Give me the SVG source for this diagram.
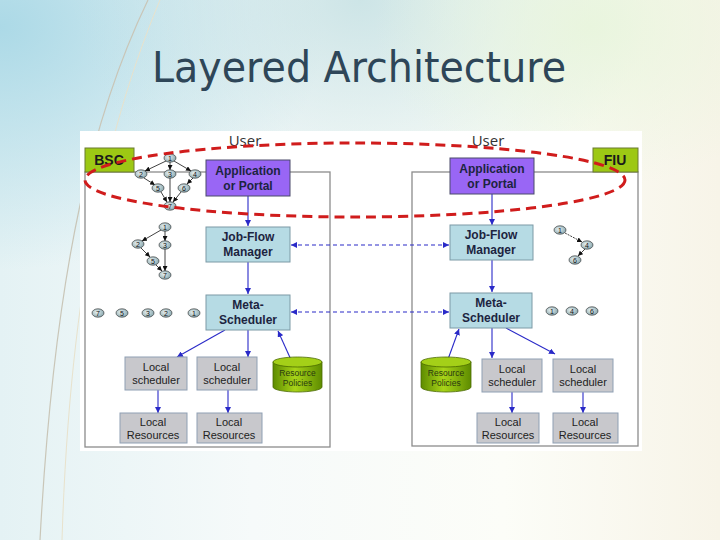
<svg xmlns="http://www.w3.org/2000/svg" width="720" height="540" viewBox="0 0 720 540">
<defs>
  <linearGradient id="bgH" x1="0" y1="0" x2="1" y2="0">
    <stop offset="0" stop-color="#e4f2f4"/>
    <stop offset="0.35" stop-color="#f6fafa"/>
    <stop offset="0.7" stop-color="#fcfdf8"/>
    <stop offset="1" stop-color="#f7f4e8"/>
  </linearGradient>
  <radialGradient id="tlGlow" cx="0" cy="0.05" r="0.45">
    <stop offset="0" stop-color="#a9d8e6" stop-opacity="0.95"/>
    <stop offset="1" stop-color="#a9d8e6" stop-opacity="0"/>
  </radialGradient>
  <radialGradient id="topGlow" cx="0.5" cy="0.0" r="0.4">
    <stop offset="0" stop-color="#c2dfe2" stop-opacity="0.8"/>
    <stop offset="1" stop-color="#c2dfe2" stop-opacity="0"/>
  </radialGradient>
  <radialGradient id="greenGlow" cx="0.82" cy="0.05" r="0.3">
    <stop offset="0" stop-color="#e8f5dc" stop-opacity="0.9"/>
    <stop offset="1" stop-color="#e8f5dc" stop-opacity="0"/>
  </radialGradient>
  <linearGradient id="cyl" x1="0" y1="0" x2="1" y2="0">
    <stop offset="0" stop-color="#5e8c00"/>
    <stop offset="0.45" stop-color="#a8d418"/>
    <stop offset="1" stop-color="#5e8c00"/>
  </linearGradient>
  <radialGradient id="nodeG" cx="0.4" cy="0.4" r="0.7">
    <stop offset="0" stop-color="#e8f0f0"/>
    <stop offset="1" stop-color="#7fa0a8"/>
  </radialGradient>
  <marker id="ab" viewBox="0 0 10 10" refX="10" refY="5" markerWidth="6" markerHeight="6" markerUnits="userSpaceOnUse" orient="auto-start-reverse">
    <path d="M0,0 L10,5 L0,10 z" fill="#2a2ac8"/>
  </marker>
  <marker id="ak" viewBox="0 0 10 10" refX="10" refY="5" markerWidth="5" markerHeight="5" markerUnits="userSpaceOnUse" orient="auto">
    <path d="M0,0 L10,5 L0,10 z" fill="#111"/>
  </marker>
  <style>
    .frame{fill:none;stroke:#8c8c8c;stroke-width:1.3}
    .tag{stroke:#6a7a30;stroke-width:1;fill:#9dc814}
    .tagt{font-family:"Liberation Sans",Arial,sans-serif;font-weight:bold;font-size:14px;fill:#1a1a1a;text-anchor:middle}
    .app{fill:#9966f5;stroke:#4a4a6a;stroke-width:1}
    .jfm{fill:#b6dbe4;stroke:#7c9aa6;stroke-width:1}
    .loc{fill:#c8c8cc;stroke:#8fa0b4;stroke-width:1}
    .bt{font-family:"Liberation Sans",Arial,sans-serif;font-weight:bold;font-size:12px;fill:#1c2440;text-anchor:middle}
    .lt{font-family:"Liberation Sans",Arial,sans-serif;font-size:11px;fill:#222;text-anchor:middle}
    .pt{font-family:"Liberation Sans",Arial,sans-serif;font-size:8.5px;fill:#2a3a10;text-anchor:middle}
    .user{font-family:"Open Sans","DejaVu Sans",sans-serif;font-size:15px;fill:#333;text-anchor:middle}
    .ar{stroke:#2a2ac8;stroke-width:1.1;fill:none;marker-end:url(#ab)}
    .da{stroke:#2a2ac8;stroke-width:1.1;fill:none;stroke-dasharray:4 3;marker-start:url(#ab);marker-end:url(#ab)}
    .ge{stroke:#111;stroke-width:0.8;fill:none;marker-end:url(#ak)}
    .gn{fill:url(#nodeG);stroke:#222;stroke-width:0.6}
    .gt{font-family:"Liberation Sans",Arial,sans-serif;font-size:7px;fill:#111;text-anchor:middle}
  </style>
</defs>

<!-- background -->
<rect x="0" y="0" width="720" height="540" fill="url(#bgH)"/>
<rect x="0" y="0" width="720" height="540" fill="url(#tlGlow)"/>
<rect x="0" y="0" width="720" height="540" fill="url(#topGlow)"/>
<rect x="0" y="0" width="720" height="540" fill="url(#greenGlow)"/>
<path d="M148,0 C95,110 55,260 40,540" fill="none" stroke="#c9c6b8" stroke-width="1.2"/>
<path d="M160,0 C110,120 70,280 62,540" fill="none" stroke="#e8e2cc" stroke-width="1"/>

<!-- title -->
<text x="359" y="82" font-family="'DejaVu Sans',sans-serif" font-size="43" fill="#2e4658" text-anchor="middle" textLength="414" lengthAdjust="spacingAndGlyphs">Layered Architecture</text>

<!-- diagram panel -->
<rect x="80" y="131" width="562" height="320" fill="#ffffff"/>

<!-- frames -->
<rect class="frame" x="85" y="172" width="245" height="275"/>
<rect class="frame" x="412" y="172" width="226" height="274"/>

<text class="user" x="245" y="146">User</text>
<text class="user" x="488" y="146">User</text>

<g id="connectors">
  <line class="ar" x1="248" y1="196" x2="248" y2="226"/>
  <line class="ar" x1="248" y1="262" x2="248" y2="294"/>
  <line class="ar" x1="225" y1="330" x2="177" y2="357"/>
  <line class="ar" x1="248" y1="330" x2="248" y2="357"/>
  <line class="ar" x1="292" y1="362" x2="278" y2="331"/>
  <line class="ar" x1="158" y1="390" x2="158" y2="413"/>
  <line class="ar" x1="228" y1="390" x2="228" y2="413"/>
  <line class="ar" x1="492" y1="194" x2="492" y2="225"/>
  <line class="ar" x1="492" y1="260" x2="492" y2="292"/>
  <line class="ar" x1="492" y1="328" x2="492" y2="358"/>
  <line class="ar" x1="506" y1="328" x2="555" y2="354"/>
  <line class="ar" x1="447" y1="362" x2="459" y2="329"/>
  <line class="ar" x1="512" y1="392" x2="512" y2="413"/>
  <line class="ar" x1="583" y1="392" x2="583" y2="413"/>
  <line class="da" x1="291" y1="245" x2="449" y2="245"/>
  <line class="da" x1="291" y1="312" x2="449" y2="312"/>
</g>

<!-- left side -->
<g id="bsc"><rect class="tag" x="85" y="148" width="49" height="24"/><text class="tagt" x="109" y="165">BSC</text></g>
<g id="app-left"><rect class="app" x="206" y="160" width="84" height="36"/><text class="bt" x="248" y="175">Application</text><text class="bt" x="248" y="190">or Portal</text></g>
<g id="jfm-left"><rect class="jfm" x="206" y="227" width="84" height="35"/><text class="bt" x="248" y="241">Job-Flow</text><text class="bt" x="248" y="256">Manager</text></g>
<g id="meta-left"><rect class="jfm" x="206" y="295" width="84" height="35"/><text class="bt" x="248" y="309">Meta-</text><text class="bt" x="248" y="324">Scheduler</text></g>
<g id="ls1"><rect class="loc" x="125" y="357" width="62" height="33"/><text class="lt" x="156" y="371">Local</text><text class="lt" x="156" y="384">scheduler</text></g>
<g id="ls2"><rect class="loc" x="197" y="357" width="60" height="33"/><text class="lt" x="227" y="371">Local</text><text class="lt" x="227" y="384">scheduler</text></g>
<g id="rp-left">
  <path d="M273,362 L273,387 A24.5,5 0 0 0 322,387 L322,362 Z" fill="url(#cyl)" stroke="#4a6a00" stroke-width="0.8"/>
  <ellipse cx="297.5" cy="362" rx="24.5" ry="5" fill="#a4d018" stroke="#4a6a00" stroke-width="0.8"/>
  <text class="pt" x="297.5" y="376">Resource</text><text class="pt" x="297.5" y="386">Policies</text>
</g>
<g id="lr1"><rect class="loc" x="120" y="413" width="67" height="30"/><text class="lt" x="153" y="426">Local</text><text class="lt" x="153" y="439">Resources</text></g>
<g id="lr2"><rect class="loc" x="197" y="413" width="65" height="30"/><text class="lt" x="229" y="426">Local</text><text class="lt" x="229" y="439">Resources</text></g>

<!-- right side -->
<g id="fiu"><rect class="tag" x="593" y="148" width="45" height="24"/><text class="tagt" x="615" y="165">FIU</text></g>
<g id="app-right"><rect class="app" x="450" y="158" width="84" height="36"/><text class="bt" x="492" y="173">Application</text><text class="bt" x="492" y="188">or Portal</text></g>
<g id="jfm-right"><rect class="jfm" x="450" y="225" width="83" height="35"/><text class="bt" x="491" y="239">Job-Flow</text><text class="bt" x="491" y="254">Manager</text></g>
<g id="meta-right"><rect class="jfm" x="450" y="293" width="82" height="35"/><text class="bt" x="491" y="307">Meta-</text><text class="bt" x="491" y="322">Scheduler</text></g>
<g id="rp-right">
  <path d="M421,362 L421,387 A25,5 0 0 0 471,387 L471,362 Z" fill="url(#cyl)" stroke="#4a6a00" stroke-width="0.8"/>
  <ellipse cx="446" cy="362" rx="25" ry="5" fill="#a4d018" stroke="#4a6a00" stroke-width="0.8"/>
  <text class="pt" x="446" y="376">Resource</text><text class="pt" x="446" y="386">Policies</text>
</g>
<g id="ls3"><rect class="loc" x="482" y="359" width="60" height="33"/><text class="lt" x="512" y="373">Local</text><text class="lt" x="512" y="386">scheduler</text></g>
<g id="ls4"><rect class="loc" x="553" y="359" width="60" height="33"/><text class="lt" x="583" y="373">Local</text><text class="lt" x="583" y="386">scheduler</text></g>
<g id="lr3"><rect class="loc" x="477" y="413" width="62" height="30"/><text class="lt" x="508" y="426">Local</text><text class="lt" x="508" y="439">Resources</text></g>
<g id="lr4"><rect class="loc" x="553" y="413" width="65" height="30"/><text class="lt" x="585" y="426">Local</text><text class="lt" x="585" y="439">Resources</text></g>

<!-- workflow graph top-left -->
<g id="graph1">
  <line class="ge" x1="166" y1="161" x2="145" y2="171"/>
  <line class="ge" x1="170" y1="162" x2="170" y2="170"/>
  <line class="ge" x1="174" y1="161" x2="191" y2="171"/>
  <line class="ge" x1="144" y1="178" x2="155" y2="185"/>
  <line class="ge" x1="193" y1="178" x2="187" y2="184"/>
  <line class="ge" x1="161" y1="192" x2="167" y2="202"/>
  <line class="ge" x1="170" y1="178" x2="170" y2="202"/>
  <line class="ge" x1="181" y1="192" x2="173" y2="202"/>
  <ellipse class="gn" cx="170" cy="158" rx="6" ry="4.2"/><text class="gt" x="170" y="160.5">1</text>
  <ellipse class="gn" cx="141" cy="174" rx="6" ry="4.2"/><text class="gt" x="141" y="176.5">2</text>
  <ellipse class="gn" cx="170" cy="174" rx="6" ry="4.2"/><text class="gt" x="170" y="176.5">3</text>
  <ellipse class="gn" cx="195" cy="174" rx="6" ry="4.2"/><text class="gt" x="195" y="176.5">4</text>
  <ellipse class="gn" cx="158" cy="188" rx="6" ry="4.2"/><text class="gt" x="158" y="190.5">5</text>
  <ellipse class="gn" cx="184" cy="188" rx="6" ry="4.2"/><text class="gt" x="184" y="190.5">6</text>
  <ellipse class="gn" cx="170" cy="206" rx="6" ry="4.2"/><text class="gt" x="170" y="208.5">7</text>
</g>
<g id="graph2">
  <line class="ge" x1="161" y1="230" x2="142" y2="241"/>
  <line class="ge" x1="165" y1="231" x2="165" y2="241"/>
  <line class="ge" x1="141" y1="248" x2="150" y2="257"/>
  <line class="ge" x1="156" y1="265" x2="162" y2="271"/>
  <line class="ge" x1="165" y1="249" x2="165" y2="271"/>
  <ellipse class="gn" cx="165" cy="227" rx="6" ry="4.2"/><text class="gt" x="165" y="229.5">1</text>
  <ellipse class="gn" cx="138" cy="244" rx="6" ry="4.2"/><text class="gt" x="138" y="246.5">2</text>
  <ellipse class="gn" cx="165" cy="245" rx="6" ry="4.2"/><text class="gt" x="165" y="247.5">3</text>
  <ellipse class="gn" cx="153" cy="261" rx="6" ry="4.2"/><text class="gt" x="153" y="263.5">5</text>
  <ellipse class="gn" cx="165" cy="275" rx="6" ry="4.2"/><text class="gt" x="165" y="277.5">7</text>
</g>
<g id="row-left">
  <ellipse class="gn" cx="98" cy="313" rx="6" ry="4.2"/><text class="gt" x="98" y="315.5">7</text>
  <ellipse class="gn" cx="122" cy="313" rx="6" ry="4.2"/><text class="gt" x="122" y="315.5">5</text>
  <ellipse class="gn" cx="148" cy="313" rx="6" ry="4.2"/><text class="gt" x="148" y="315.5">3</text>
  <ellipse class="gn" cx="166" cy="313" rx="6" ry="4.2"/><text class="gt" x="166" y="315.5">2</text>
  <ellipse class="gn" cx="194" cy="313" rx="6" ry="4.2"/><text class="gt" x="194" y="315.5">1</text>
</g>
<g id="graph3">
  <line class="ge" x1="565" y1="233" x2="582" y2="242" stroke-dasharray="2 1"/>
  <line class="ge" x1="585" y1="249" x2="578" y2="256"/>
  <ellipse class="gn" cx="560" cy="230" rx="6" ry="4.2"/><text class="gt" x="560" y="232.5">1</text>
  <ellipse class="gn" cx="587" cy="245" rx="6" ry="4.2"/><text class="gt" x="587" y="247.5">4</text>
  <ellipse class="gn" cx="575" cy="260" rx="6" ry="4.2"/><text class="gt" x="575" y="262.5">6</text>
</g>
<g id="row-right">
  <ellipse class="gn" cx="552" cy="311" rx="6" ry="4.2"/><text class="gt" x="552" y="313.5">1</text>
  <ellipse class="gn" cx="572" cy="311" rx="6" ry="4.2"/><text class="gt" x="572" y="313.5">4</text>
  <ellipse class="gn" cx="592" cy="311" rx="6" ry="4.2"/><text class="gt" x="592" y="313.5">6</text>
</g>

<!-- red dashed ellipse -->
<ellipse cx="355" cy="180" rx="270" ry="37" fill="none" stroke="#d01c1c" stroke-width="3" stroke-dasharray="10 6"/>
</svg>
